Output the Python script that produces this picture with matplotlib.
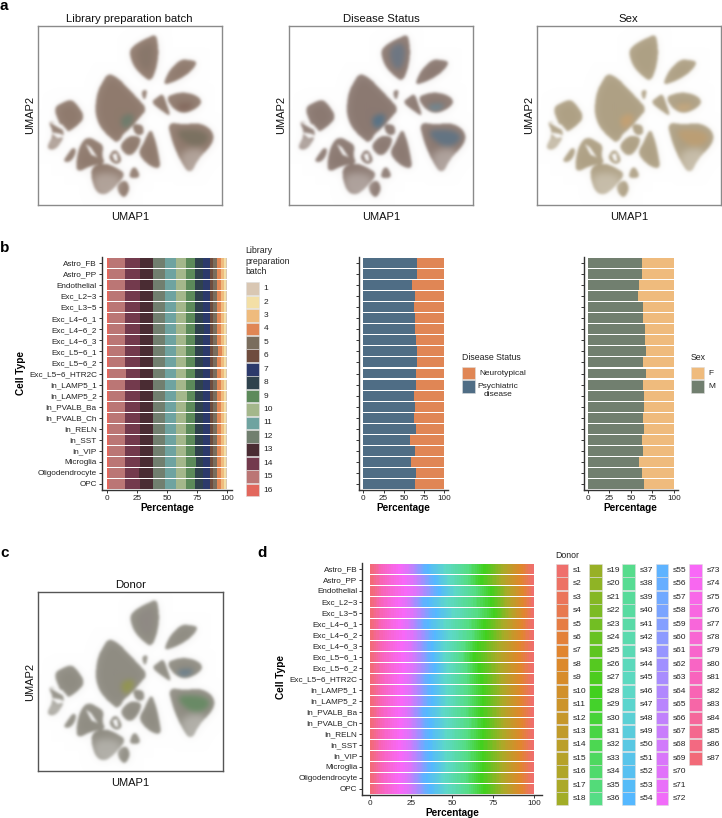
import numpy as np
import matplotlib
matplotlib.use("Agg")
import matplotlib.pyplot as plt
from matplotlib.colors import LinearSegmentedColormap, to_rgb
from matplotlib.patches import Rectangle
from matplotlib.path import Path

plt.rcParams['font.family'] = ['Liberation Sans', 'DejaVu Sans']

W, H = 722, 818

cell_types = ["Astro_FB", "Astro_PP", "Endothelial", "Exc_L2−3", "Exc_L3−5", "Exc_L4−6_1", "Exc_L4−6_2",
              "Exc_L4−6_3", "Exc_L5−6_1", "Exc_L5−6_2", "Exc_L5−6_HTR2C", "In_LAMP5_1", "In_LAMP5_2",
              "In_PVALB_Ba", "In_PVALB_Ch", "In_RELN", "In_SST", "In_VIP", "Microglia", "Oligodendrocyte", "OPC"]

# share of each batch per cell type, batch 16 first (leftmost) down to batch 1
batch_pct = [
    [1.5, 13.5, 12.0, 11.0, 10.0, 9.0, 9.0, 7.5, 6.5, 6.0, 2.0, 4.0, 3.0, 2.5, 2.0, 0.5],
    [1.5, 13.0, 12.5, 11.0, 10.0, 9.0, 9.0, 7.5, 6.5, 6.0, 2.0, 4.0, 3.0, 2.5, 2.0, 0.5],
    [1.5, 13.5, 12.5, 10.5, 10.0, 9.0, 9.0, 7.5, 6.5, 6.0, 2.0, 4.0, 3.0, 2.5, 2.0, 0.5],
    [1.5, 13.5, 12.0, 11.0, 10.0, 9.0, 9.0, 7.5, 6.5, 6.0, 2.5, 3.5, 3.0, 2.5, 2.0, 0.5],
    [1.5, 13.5, 12.0, 11.0, 10.5, 8.5, 9.0, 7.5, 6.5, 6.0, 2.0, 4.0, 3.0, 2.5, 2.0, 0.5],
    [1.5, 13.5, 12.0, 11.0, 10.0, 9.0, 9.0, 7.5, 6.5, 6.0, 2.0, 4.0, 3.0, 2.5, 2.0, 0.5],
    [1.5, 13.5, 12.0, 11.0, 10.0, 9.0, 9.0, 7.5, 7.0, 5.5, 2.0, 4.0, 3.0, 2.5, 2.0, 0.5],
    [1.5, 13.5, 12.0, 11.0, 10.0, 9.0, 9.0, 7.5, 6.5, 6.0, 2.0, 4.0, 3.0, 2.5, 2.0, 0.5],
    [1.5, 13.5, 12.0, 11.0, 10.0, 9.0, 9.0, 7.5, 6.5, 6.0, 2.0, 4.5, 3.0, 2.0, 2.0, 0.5],
    [1.5, 13.5, 12.0, 11.0, 10.0, 9.0, 9.0, 7.5, 6.5, 6.0, 2.0, 4.0, 3.0, 2.5, 2.0, 0.5],
    [1.5, 14.0, 12.0, 10.5, 10.0, 9.0, 9.0, 7.5, 6.5, 6.0, 2.0, 4.0, 3.0, 2.5, 2.0, 0.5],
    [1.5, 13.5, 12.0, 11.0, 10.0, 9.0, 9.0, 7.5, 6.5, 6.0, 2.0, 4.0, 3.0, 2.5, 2.0, 0.5],
    [1.5, 13.5, 12.0, 11.0, 10.0, 9.0, 9.5, 7.0, 6.5, 6.0, 2.0, 4.0, 3.0, 2.5, 2.0, 0.5],
    [1.5, 13.5, 12.0, 11.0, 10.0, 9.0, 9.0, 7.5, 6.5, 6.0, 2.0, 4.0, 3.0, 2.5, 2.0, 0.5],
    [1.5, 13.5, 12.0, 11.0, 10.0, 9.5, 8.5, 7.5, 6.5, 6.0, 2.0, 4.0, 3.0, 2.5, 2.0, 0.5],
    [1.5, 13.5, 12.0, 11.0, 10.0, 9.0, 9.0, 7.5, 6.5, 6.0, 2.0, 4.0, 3.0, 2.5, 2.0, 0.5],
    [1.5, 13.5, 12.5, 10.5, 10.0, 9.0, 9.0, 7.5, 6.5, 6.0, 2.0, 4.0, 3.0, 2.5, 2.0, 0.5],
    [1.5, 13.5, 12.0, 11.0, 10.0, 9.0, 9.0, 7.5, 6.5, 6.0, 2.0, 4.0, 3.0, 2.5, 2.0, 0.5],
    [1.5, 13.5, 12.0, 11.0, 10.0, 9.0, 9.0, 8.0, 6.0, 6.0, 2.0, 4.0, 3.0, 2.5, 2.0, 0.5],
    [1.5, 13.0, 12.0, 11.5, 10.0, 9.0, 9.0, 7.5, 6.5, 6.0, 2.0, 4.0, 3.0, 2.5, 2.0, 0.5],
    [1.5, 13.5, 12.0, 11.0, 10.0, 9.0, 9.0, 7.5, 6.5, 6.0, 2.0, 4.0, 3.0, 2.5, 2.0, 0.5],
]
batch_colors = ["#e2675d", "#bb7675", "#733a4d", "#4a2c33", "#717f6f", "#6fa3a0", "#a4b78b", "#5c8a5a",
                "#2f424d", "#2c3a6b", "#6f4c3e", "#7a6d5d", "#e08655", "#efbb7d", "#f3dfa6", "#d9c7b3"]
batch_labels = [str(i) for i in range(1, 17)]

psychiatric_pct = [66.7, 66.3, 60.0, 63.4, 62.5, 64.2, 63.8, 65.4, 66.3, 65.8, 65.0,
                   65.0, 62.5, 63.8, 62.5, 64.6, 57.6, 63.8, 58.8, 64.6, 63.8]
male_pct = [62.9, 62.9, 59.5, 58.3, 64.1, 64.5, 66.0, 66.4, 67.2, 63.7, 67.2,
            63.7, 64.9, 65.3, 64.5, 65.6, 62.9, 64.5, 59.5, 62.9, 64.9]

# donor shares, s1 to s87
donor_pct = [1.3, 1.2, 1.0, 1.3, 0.9, 1.2, 1.1, 1.0, 1.2, 1.1, 1.3, 0.9, 1.0, 1.2, 0.8, 1.1, 1.0, 1.2, 0.9, 1.0,
             1.3, 0.8, 1.1, 0.9, 1.0, 1.2, 1.1, 1.4, 1.0, 1.2, 0.9, 1.1, 1.3, 0.8, 1.0, 1.2, 1.1, 0.9, 1.3, 1.0,
             1.2, 0.9, 1.1, 1.0, 1.3, 1.1, 0.8, 1.2, 1.0, 1.1, 1.3, 0.9, 1.0, 1.2, 1.4, 0.9, 0.7, 0.8, 0.7, 0.8,
             0.7, 0.9, 0.8, 0.7, 0.8, 0.9, 0.7, 0.8, 0.9, 1.6, 1.7, 1.5, 1.8, 1.6, 1.7, 1.4, 1.5, 1.3, 1.4, 1.2,
             1.3, 1.2, 1.1, 1.3, 1.2, 1.1, 1.5]
donor_labels = ["s%d" % i for i in range(1, 88)]
# % position per cell type where blue (s55) starts and where the bright green (s28) starts
donor_blue = [33.0, 37.5, 40.0, 32.5, 37.5, 33.0, 37.5, 35.5, 36.5, 37.5, 34.5,
              35.5, 35.5, 32.5, 34.5, 34.5, 33.5, 34.5, 35.5, 32.5, 34.5]
donor_green = [69.0, 67.0, 73.0, 73.0, 75.0, 69.0, 70.0, 65.0, 63.0, 66.0, 67.0,
               68.0, 68.0, 67.0, 68.5, 68.0, 67.0, 68.0, 68.0, 67.0, 69.0]

# UMAP outlines of the clusters (x, y in plot units)
umap_blobs = [
    [(386, 150), (405, 130), (436, 114), (466, 100), (472, 130), (474, 165), (466, 210), (450, 244), (425, 225),
     (405, 205), (392, 180)],
    [(488, 254), (498, 225), (512, 203), (540, 176), (568, 178), (592, 184), (572, 212), (550, 228), (525, 242)],
    [(420, 272), (442, 266), (432, 304)],
    [(284, 320), (290, 275), (305, 245), (322, 218), (350, 230), (378, 258), (410, 292), (440, 325), (418, 350),
     (398, 374), (372, 398), (345, 424), (318, 402), (296, 375), (286, 345)],
    [(496, 290), (525, 278), (555, 275), (590, 285), (606, 305), (582, 328), (545, 340), (515, 322)],
    [(451, 305), (470, 290), (487, 278), (498, 310), (512, 350), (480, 328)],
    [(500, 364), (550, 372), (592, 366), (628, 382), (642, 410), (628, 440), (595, 472), (568, 524), (538, 478),
     (515, 425)],
    [(450, 381), (465, 420), (474, 460), (481, 505), (448, 498), (411, 460), (430, 425)],
    [(394, 370), (428, 372), (430, 402), (404, 404)],
    [(361, 430), (378, 412), (396, 404), (424, 412), (410, 448), (386, 469), (362, 448)],
    [(331, 412), (373, 396), (350, 429)],
    [(159, 322), (185, 306), (212, 296), (230, 312), (254, 350), (228, 378), (196, 398), (176, 368)],
    [(141, 358), (178, 372), (194, 405), (165, 449), (136, 444), (160, 400)],
    [(186, 484), (202, 460), (217, 439), (229, 450), (212, 484)],
    [(224, 520), (232, 445), (258, 406), (296, 425), (309, 437), (304, 465), (314, 490), (272, 494)],
    [(266, 502), (310, 486), (345, 500), (376, 520), (348, 554), (316, 584), (283, 574)],
    [(348, 552), (376, 536), (389, 565), (372, 594), (354, 578)],
    [(384, 526), (400, 491), (422, 529), (395, 534)],
    [(321, 470), (345, 441), (366, 480), (345, 494)],
]
# white channels that split the clusters
umap_gaps = [
    [(142, 362), (185, 372), (205, 395), (180, 385)],
    [(150, 395), (180, 400), (195, 410), (170, 412)],
    [(255, 430), (270, 440), (290, 470), (272, 462)],
    [(335, 462), (348, 458), (352, 482), (342, 480)],
]
# tinted regions, colour given per panel below
umap_spots = [
    [(355, 345), (400, 335), (392, 372), (365, 385)],
    [(520, 385), (600, 385), (630, 410), (590, 440), (550, 425)],
    [(405, 140), (455, 120), (455, 190), (425, 210)],
    [(520, 310), (580, 305), (560, 328), (535, 330)],
]
# thin regions of the embedding where cells are sparse
umap_faint = [
    [(530, 445), (625, 440), (580, 530), (555, 525)],
    [(275, 510), (370, 520), (340, 590), (280, 580)],
    [(130, 400), (190, 400), (195, 450), (130, 450)],
]
umap_panels = {
    "Library preparation batch": ("#8f7a6d", ["#617d6c", "#736e5c", "#86766a", "#7e6055"]),
    "Disease Status": ("#8b7971", ["#42708f", "#53728a", "#62768a", "#62899b"]),
    "Sex": ("#aea084", ["#cca06c", "#c29e6e", "#ada084", "#cca878"]),
    "Donor": ("#8f8c82", ["#94983f", "#5a8a5a", "#8f8985", "#59788f"]),
}

# raster grid for the density images, same units as the outlines
gx, gy = np.meshgrid(np.arange(113, 665, 1.5), np.arange(77, 614, 1.5))
grid_pts = np.column_stack([gx.ravel(), gy.ravel()])


def smooth(pts, n=2):
    # round the corners of a closed outline
    pts = np.array(pts, float)
    for _ in range(n):
        nxt = np.roll(pts, -1, axis=0)
        pts = np.column_stack([0.75 * pts + 0.25 * nxt, 0.25 * pts + 0.75 * nxt]).reshape(-1, 2)
    return pts


def box_blur(a, r):
    k = np.ones(r) / r
    for _ in range(3):
        a = np.apply_along_axis(lambda v: np.convolve(v, k, mode="same"), 0, a)
        a = np.apply_along_axis(lambda v: np.convolve(v, k, mode="same"), 1, a)
    return a


def mask_of(polys, rounded=True):
    m = np.zeros(gx.shape)
    for p in polys:
        q = smooth(p) if rounded else np.array(p, float)
        q = np.vstack([q, q[0]])
        m = np.maximum(m, Path(q).contains_points(grid_pts).reshape(gx.shape).astype(float))
    return m


blob_mask = mask_of(umap_blobs) * (1 - mask_of(umap_gaps, rounded=False))
density = 0.85 * box_blur(blob_mask, 5) + 0.15 * box_blur(blob_mask, 18)
density = density * (1 - 0.3 * box_blur(mask_of(umap_faint), 14))
spot_masks = [box_blur(mask_of([s]), 10) for s in umap_spots]


def add_axes_px(left, top, right, bottom):
    return fig.add_axes([left / W, 1 - bottom / H, (right - left) / W, (bottom - top) / H])


def draw_umap(box, title, edge, ylabel=True):
    base, tints = umap_panels[title]
    ax = add_axes_px(*box)
    col = np.ones(gx.shape + (3,)) * np.array(to_rgb(base))
    for m, c in zip(spot_masks, tints):
        col = col * (1 - 0.7 * m[..., None]) + np.array(to_rgb(c)) * 0.7 * m[..., None]
    img = 1 - density[..., None] * (1 - col)
    ax.imshow(img, extent=(113, 665, 614, 77), aspect="auto", interpolation="bilinear")
    ax.set_xticks([])
    ax.set_yticks([])
    for s in ax.spines.values():
        s.set_color(edge)
        s.set_linewidth(1.0)
    ax.set_title(title, fontsize=8.2, pad=2.5, color="#111111")
    ax.set_xlabel("UMAP1", fontsize=8, labelpad=5, color="#111111")
    if ylabel:
        ax.set_ylabel("UMAP2", fontsize=8, labelpad=2, color="#111111")
    return ax


def style_bars(ax, labels=True):
    ax.set_ylim(20.55, -0.55)
    ax.set_xticks([0, 25, 50, 75, 100])
    ax.set_yticks(range(len(cell_types)))
    ax.set_yticklabels(cell_types if labels else [])
    ax.tick_params(axis="both", length=2, width=0.7, labelsize=5.9, pad=1.5, color="#333333", labelcolor="#222222")
    for s in ["top", "right"]:
        ax.spines[s].set_visible(False)
    for s in ["left", "bottom"]:
        ax.spines[s].set_linewidth(1.0)
        ax.spines[s].set_color("#333333")
    ax.set_xlabel("Percentage", fontsize=7.2, fontweight="bold", labelpad=1)


def stacked(ax, rows, colors, aa=True):
    rows = np.array(rows, float)
    y = np.arange(rows.shape[0])
    left = np.zeros(rows.shape[0])
    for j in range(rows.shape[1]):
        ax.barh(y, rows[:, j], left=left, height=0.9, color=colors[j], linewidth=0, antialiased=aa)
        left = left + rows[:, j]


def legend_column(x, top, labels, colors, label_dx=17.5, fs=6.0):
    for i, (lab, c) in enumerate(zip(labels, colors)):
        y = top + i * 13.43
        ov.add_patch(Rectangle((x, y), 12.7, 12.7, fc=c, ec="#dddddd", lw=0.4))
        ov.text(x + label_dx, y + 6.4, lab, fontsize=fs, va="center", ha="left", color="#222222")


fig = plt.figure(figsize=(W / 100, H / 100), dpi=100)

draw_umap((37.7, 25.7, 221.7, 204.7), "Library preparation batch", "#8a8a8a")
draw_umap((289.3, 25.7, 473.3, 204.7), "Disease Status", "#8a8a8a")
draw_umap((536.7, 25.7, 721, 204.7), "Sex", "#8a8a8a")
draw_umap((38.3, 591.7, 223, 771.3), "Donor", "#555555")

# panel b
ax_b1 = add_axes_px(101.7, 257, 232, 490)
ax_b1.set_xlim(-4.7, 104.2)
stacked(ax_b1, batch_pct, batch_colors)
style_bars(ax_b1)

ax_b2 = add_axes_px(359.3, 257, 448, 490)
ax_b2.set_xlim(-4.9, 104.6)
stacked(ax_b2, [[p, 100 - p] for p in psychiatric_pct], ["#4f6d85", "#e08655"])
style_bars(ax_b2, labels=False)

ax_b3 = add_axes_px(583.7, 257, 677.7, 490)
ax_b3.set_xlim(-4.6, 104.3)
stacked(ax_b3, [[p, 100 - p] for p in male_pct], ["#717f6f", "#efbb7d"])
style_bars(ax_b3, labels=False)

# panel d, donors stacked s87 first; each donor scaled into the stretch read for that cell type
ax_d = add_axes_px(362.3, 562.7, 542.3, 795)
ax_d.set_xlim(-4.7, 104.9)
donor_cmap = LinearSegmentedColormap.from_list("donor", [
    (0.0, "#ef6f6c"), (6 / 86, "#e0862c"), (16 / 86, "#aaaa28"), (27 / 86, "#42d01e"), (35 / 86, "#55dd85"),
    (45 / 86, "#5dd8c8"), (53 / 86, "#55b8ff"), (61 / 86, "#a090ff"), (72 / 86, "#f868f8"), (81 / 86, "#f864b8"),
    (1.0, "#f26a78")])
donor_colors = [donor_cmap(i / 86) for i in range(87)][::-1]
rev = np.array(donor_pct)[::-1]
part_a, part_b, part_c = rev[:32], rev[32:59], rev[59:]
donor_rows = []
for b, g in zip(donor_blue, donor_green):
    donor_rows.append(np.concatenate([part_a / part_a.sum() * b,
                                      part_b / part_b.sum() * (g - b),
                                      part_c / part_c.sum() * (100 - g)]))
stacked(ax_d, donor_rows, donor_colors, aa=False)
style_bars(ax_d)

# overlay in pixel units for legends and side labels
ov = fig.add_axes([0, 0, 1, 1], facecolor="none")
ov.set_xlim(0, W)
ov.set_ylim(H, 0)
ov.axis("off")

for letter, x, y in [("a", 0, 6), ("b", 0, 248), ("c", 0, 553), ("d", 257, 553)]:
    ov.text(x, y, letter, fontsize=11, fontweight="bold", va="center", ha="left")

for x, y in [(20.7, 372.7), (280.7, 677)]:
    ov.text(x, y, "Cell Type", fontsize=7.2, fontweight="bold", rotation=90, va="center", ha="center")

ov.text(245.5, 246, "Library\npreparation\nbatch", fontsize=6.3, va="top", ha="left", linespacing=1.25, color="#222222")
legend_column(246, 282.3, batch_labels, batch_colors[::-1])

ov.text(461.5, 358, "Disease Status", fontsize=6.3, va="center", ha="left", color="#222222")
legend_column(462, 366.7, ["Neurotypical", ""], ["#e08655", "#4f6d85"])
ov.text(498, 391, "Psychiatric\ndisease", fontsize=6.0, va="center", ha="center", linespacing=1.2, color="#222222")

ov.text(691, 358, "Sex", fontsize=6.3, va="center", ha="left", color="#222222")
legend_column(691, 366.7, ["F", "M"], ["#efbb7d", "#717f6f"])

ov.text(555.7, 555.7, "Donor", fontsize=6.3, va="center", ha="left", color="#222222")
forward = [donor_cmap(i / 86) for i in range(87)]
for col, start in enumerate([0, 18, 36, 54, 72]):
    legend_column(555.7 + col * 33.3, 564, donor_labels[start:start + 18], forward[start:start + 18])

fig.savefig("out.png", dpi=100)
